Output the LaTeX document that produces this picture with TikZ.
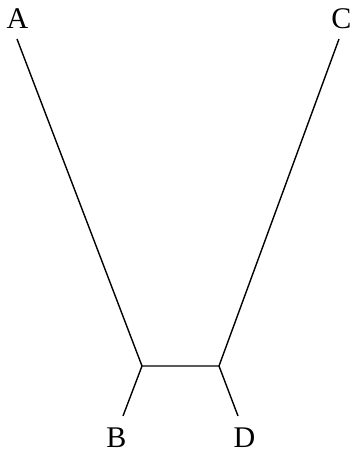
\documentclass[tikz,border=0pt]{standalone}
\usepackage{fontspec}
\setmainfont{Liberation Serif}
\begin{document}
\begin{tikzpicture}[x=1pt,y=1pt,
  lbl/.style={inner sep=0pt,font=\fontsize{30}{32}\selectfont},
  edge/.style={line width=1.4pt}]
\useasboundingbox (0,0) rectangle (352,453);
\node[lbl] (A) at (17.5,434) {A};
\node[lbl] (C) at (341.5,434) {C};
\node[lbl] (B) at (116.5,15) {B};
\node[lbl] (D) at (244.5,15) {D};
\coordinate (a1) at (17,414);
\coordinate (c1) at (339,414);
\coordinate (u) at (142,87);
\coordinate (v) at (219,87);
\coordinate (b1) at (123,37);
\coordinate (d1) at (238,37);
\draw[edge] (a1) -- (u) -- (v) -- (c1);
\draw[edge] (u) -- (b1);
\draw[edge] (v) -- (d1);
\end{tikzpicture}
\end{document}
